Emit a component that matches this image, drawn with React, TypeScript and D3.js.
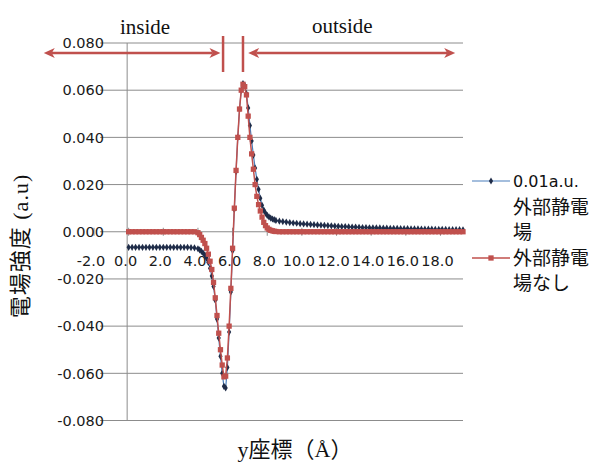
import React from 'react';
import * as d3 from 'd3';

// y coordinate (Å) of each sample
const xLeft = [0.0, 0.2, 0.4, 0.6, 0.8, 1.0, 1.2, 1.4, 1.6, 1.8, 2.0, 2.2, 2.4, 2.6, 2.8, 3.0, 3.2, 3.4, 3.6, 3.8, 4.0];
const xMid = [
  4.1, 4.2, 4.3, 4.4, 4.5, 4.6, 4.7, 4.8, 4.9, 5.0,
  5.1, 5.2, 5.3, 5.4, 5.5, 5.6, 5.7, 5.8, 5.9, 6.0,
  6.1, 6.2, 6.3, 6.4, 6.5, 6.6, 6.7, 6.8, 6.9, 7.0,
  7.1, 7.2, 7.3, 7.4, 7.5, 7.6, 7.7, 7.8, 7.9, 8.0,
  8.1, 8.2, 8.3, 8.4, 8.5,
];
const xRight = [
  8.7, 8.9, 9.1, 9.3, 9.5, 9.7, 9.9, 10.1, 10.3, 10.5,
  10.7, 10.9, 11.1, 11.3, 11.5, 11.7, 11.9, 12.1, 12.3, 12.5,
  12.7, 12.9, 13.1, 13.3, 13.5, 13.7, 13.9, 14.1, 14.3, 14.5,
  14.7, 14.9, 15.1, 15.3, 15.5, 15.7, 15.9, 16.1, 16.3, 16.5,
  16.7, 16.9, 17.1, 17.3, 17.5, 17.7, 17.9, 18.1, 18.3, 18.5,
  18.7, 18.9, 19.1, 19.3,
];

// 0.01a.u. 外部静電場
const withFieldLeft = [
  -0.0066, -0.0066, -0.0066, -0.0066, -0.0066, -0.0066, -0.0066, -0.0066, -0.0066, -0.0066,
  -0.0066, -0.0066, -0.0066, -0.0066, -0.0066, -0.0066, -0.0066, -0.0066, -0.0067, -0.0068, -0.0072,
];
const withFieldMid = [
  -0.0077, -0.0083, -0.009, -0.0099, -0.0112, -0.013, -0.0155, -0.0188, -0.0232, -0.029,
  -0.037, -0.045, -0.0528, -0.06, -0.0655, -0.0662, -0.0575, -0.0425, -0.0255, -0.008,
  0.0095, 0.0255, 0.04, 0.052, 0.06, 0.0628, 0.062, 0.0585, 0.0525, 0.045,
  0.0385, 0.0325, 0.027, 0.0222, 0.018, 0.0142, 0.0112, 0.0092, 0.0079, 0.0069,
  0.0063, 0.0058, 0.0054, 0.0051, 0.0048,
];
const withFieldRight = [
  0.0045, 0.0043, 0.0041, 0.0039, 0.0037, 0.0036, 0.0034, 0.0033, 0.0032, 0.0031,
  0.003, 0.0029, 0.0028, 0.0027, 0.0026, 0.0025, 0.0024, 0.0023, 0.0022, 0.0022,
  0.0021, 0.002, 0.002, 0.0019, 0.0018, 0.0018, 0.0017, 0.0017, 0.0016, 0.0016,
  0.0015, 0.0015, 0.0014, 0.0014, 0.0014, 0.0013, 0.0013, 0.0013, 0.0012, 0.0012,
  0.0012, 0.0011, 0.0011, 0.0011, 0.0011, 0.001, 0.001, 0.001, 0.001, 0.0009,
  0.0009, 0.0009, 0.0009, 0.0008,
];

// 外部静電場なし
const noFieldLeft = [
  0, 0, 0, 0, 0, 0, 0, 0, 0, 0,
  0, 0, 0, 0, 0, 0, 0, 0, 0, 0, -0.0004,
];
const noFieldMid = [
  -0.0012, -0.0024, -0.0036, -0.005, -0.007, -0.0095, -0.0125, -0.016, -0.0215, -0.028,
  -0.0355, -0.043, -0.05, -0.0565, -0.0615, -0.0612, -0.0535, -0.04, -0.024, -0.007,
  0.01, 0.026, 0.04, 0.052, 0.06, 0.0625, 0.0615, 0.058, 0.049, 0.04,
  0.033, 0.0265, 0.02, 0.015, 0.0115, 0.0088, 0.0062, 0.004, 0.0026, 0.0016,
  0.001, 0.0006, 0.0004, 0.0002, 0.0001,
];
const noFieldRight = [
  0, 0, 0, 0, 0, 0, 0, 0, 0, 0,
  0, 0, 0, 0, 0, 0, 0, 0, 0, 0,
  0, 0, 0, 0, 0, 0, 0, 0, 0, 0,
  0, 0, 0, 0, 0, 0, 0, 0, 0, 0,
  0, 0, 0, 0, 0, 0, 0, 0, 0, 0,
  0, 0, 0, 0,
];

const xTicks = [-2, 0, 2, 4, 6, 8, 10, 12, 14, 16, 18];
const xTickLabels = ['-2.0', '0.0', '2.0', '4.0', '6.0', '8.0', '10.0', '12.0', '14.0', '16.0', '18.0'];
const yTicks = [0.08, 0.06, 0.04, 0.02, 0, -0.02, -0.04, -0.06, -0.08];
const yTickLabels = ['0.080', '0.060', '0.040', '0.020', '0.000', '-0.020', '-0.040', '-0.060', '-0.080'];

const RED = '#c0504d';
const BLUE = '#4a7ebb';
const NAVY = '#1f2c48';
const GRID = '#8c8c8c';
const SANS = '"DejaVu Sans", Verdana, sans-serif';
const CJK = '"Noto Sans CJK JP", "DejaVu Sans", sans-serif';
const SERIF = '"Liberation Serif", "Noto Sans CJK JP", serif';

type Pt = [number, number];

export default function App() {
  const xs = [...xLeft, ...xMid, ...xRight];
  const withField: Pt[] = [...withFieldLeft, ...withFieldMid, ...withFieldRight].map((v, i) => [xs[i], v]);
  const noField: Pt[] = [...noFieldLeft, ...noFieldMid, ...noFieldRight].map((v, i) => [xs[i], v]);

  const x = d3.scaleLinear().domain([-2, 19.3]).range([94, 463]);
  const y = d3.scaleLinear().domain([-0.08, 0.08]).range([420.5, 43]);

  const path = d3.line<Pt>().x(d => x(d[0])).y(d => y(d[1]));
  const diamond = d3.symbol().type(d3.symbolDiamond).size(15)() as string;
  const square = d3.symbol().type(d3.symbolSquare).size(28)() as string;

  const gridLeft = 100;
  const gridRight = x(19.3);
  const axisY = y(0);

  // annotation arrows, positioned along the y coordinate axis
  const arrowY = 53;
  const head = (tip: number, dir: number) =>
    `M${tip},${arrowY} L${tip + dir * 11},${arrowY - 5} L${tip + dir * 8},${arrowY} L${tip + dir * 11},${arrowY + 5} Z`;
  const insideFrom = x(-4.9);
  const insideTo = x(5.3);
  const barA = x(5.45);
  const barB = x(6.6);
  const outsideFrom = x(6.9);
  const outsideTo = x(18.85);

  return (
    <div style={{ position: 'absolute', left: 0, top: 0 }}>
      <svg width={590} height={463} style={{ display: 'block', background: '#fff' }}>
        {/* horizontal gridlines */}
        {yTicks.map(t => (
          <line key={t} x1={gridLeft} x2={gridRight} y1={y(t)} y2={y(t)} stroke={GRID} strokeWidth={1} />
        ))}
        {/* vertical axis at x = 0 */}
        <line x1={x(0) - 1.5} x2={x(0) - 1.5} y1={y(0.08)} y2={y(-0.08)} stroke={GRID} strokeWidth={1} />
        {/* x ticks crossing the zero line */}
        {xTicks.map(t => (
          <line key={t} x1={x(t)} x2={x(t)} y1={axisY - 4} y2={axisY + 4} stroke={GRID} strokeWidth={1} />
        ))}

        {/* y tick labels */}
        {yTicks.map((t, i) => (
          <text key={t} x={104} y={y(t)} dy="0.36em" textAnchor="end" fontFamily={SANS} fontSize={14.5} fill="#1a1a1a">
            {yTickLabels[i]}
          </text>
        ))}
        {/* x tick labels */}
        {xTicks.map((t, i) => (
          <text key={t} x={x(t) - 3} y={axisY + 34} textAnchor="middle" fontFamily={SANS} fontSize={14.5} fill="#1a1a1a">
            {xTickLabels[i]}
          </text>
        ))}

        {/* series: 0.01a.u. 外部静電場 */}
        <path d={path(withField) ?? ''} fill="none" stroke={BLUE} strokeWidth={1.2} />
        {withField.map((d, i) => (
          <path key={i} d={diamond} transform={`translate(${x(d[0])},${y(d[1])})`} fill={NAVY} />
        ))}
        {/* series: 外部静電場なし */}
        <path d={path(noField) ?? ''} fill="none" stroke={RED} strokeWidth={1.5} />
        {noField.map((d, i) => (
          <path key={i} d={square} transform={`translate(${x(d[0])},${y(d[1])})`} fill={RED} />
        ))}

        {/* inside / outside annotation */}
        <g stroke={RED} strokeWidth={2.5} fill={RED}>
          <line x1={insideFrom + 8} x2={insideTo - 8} y1={arrowY} y2={arrowY} />
          <line x1={outsideFrom + 8} x2={outsideTo - 8} y1={arrowY} y2={arrowY} />
          <line x1={barA} x2={barA} y1={36} y2={72} />
          <line x1={barB} x2={barB} y1={36} y2={72} />
        </g>
        <g fill={RED} stroke="none">
          <path d={head(insideFrom, 1)} />
          <path d={head(insideTo, -1)} />
          <path d={head(outsideFrom, 1)} />
          <path d={head(outsideTo, -1)} />
        </g>
        <text x={120} y={34} fontFamily={SERIF} fontSize={21} fill="#111">inside</text>
        <text x={312} y={33} fontFamily={SERIF} fontSize={21} fill="#111">outside</text>

        {/* legend */}
        <line x1={472} x2={510} y1={181} y2={181} stroke={BLUE} strokeWidth={1.2} />
        <path d={diamond} transform="translate(491,181)" fill={NAVY} />
        <text x={513} y={181} dy="0.36em" fontFamily={SANS} fontSize={16} fill="#111">0.01a.u.</text>
        <text x={513} y={207} dy="0.36em" fontFamily={CJK} fontSize={19} fill="#111">外部静電</text>
        <text x={513} y={232} dy="0.36em" fontFamily={CJK} fontSize={19} fill="#111">場</text>
        <line x1={472} x2={510} y1={258} y2={258} stroke={RED} strokeWidth={1.5} />
        <path d={square} transform="translate(491,258)" fill={RED} />
        <text x={513} y={258} dy="0.36em" fontFamily={CJK} fontSize={19} fill="#111">外部静電</text>
        <text x={513} y={283} dy="0.36em" fontFamily={CJK} fontSize={19} fill="#111">場なし</text>

        {/* axis titles */}
        <text
          transform="translate(28,246) rotate(-90)"
          textAnchor="middle"
          fontFamily={SERIF}
          fontSize={22}
          letterSpacing={1}
          fill="#111"
        >
          電場強度 (a.u)
        </text>
        <text x={295} y={457} textAnchor="middle" fontFamily={SERIF} fontSize={22} fill="#111">
          y座標（Å）
        </text>
      </svg>
    </div>
  );
}
